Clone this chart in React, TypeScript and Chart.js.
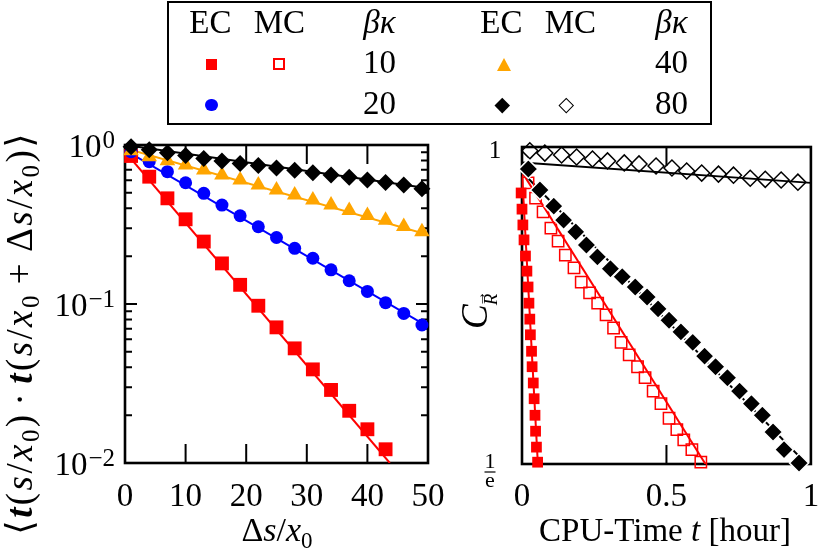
import React, { useEffect, useRef } from 'react';
import { Chart, registerables } from 'chart.js';
Chart.register(...registerables);

const SERIF = '"Liberation Serif", "DejaVu Serif", serif';
const F = (size: number, style = '') => `${style} ${size}px ${SERIF}`.trim();

// ---------- Left panel: tangent correlation vs Δs/x0 ----------
const xsL = [1, 4, 7, 10, 13, 16, 19, 22, 25, 28, 31, 34, 37, 40, 43, 46, 49];
const xsL10 = [1, 4, 7, 10, 13, 16, 19, 22, 25, 28, 31, 34, 37, 40, 43];
const ec80L = [0.975, 0.932, 0.895, 0.858, 0.822, 0.792, 0.765, 0.742, 0.718, 0.694, 0.668, 0.648, 0.627, 0.603, 0.581, 0.561, 0.53];
const ec40L = [0.921, 0.845, 0.797, 0.748, 0.697, 0.648, 0.602, 0.56, 0.521, 0.485, 0.451, 0.419, 0.387, 0.36, 0.336, 0.307, 0.285];
const ec20L = [0.908, 0.785, 0.68, 0.579, 0.497, 0.419, 0.359, 0.306, 0.262, 0.224, 0.194, 0.164, 0.14, 0.12, 0.102, 0.0873, 0.0738];
const ec10L = [0.853, 0.632, 0.462, 0.341, 0.247, 0.18, 0.132, 0.0975, 0.0713, 0.0526, 0.0388, 0.0288, 0.0213, 0.0163, 0.0122];
const fitXL = [0, 50];
const fit80L = [1.0, 0.534];
const fit40L = [0.953, 0.272];
const fit20L = [0.93, 0.072];
const fitX10L = [0, 43.7];
const fit10L = [0.908, 0.01];
const xTickValsL = [0, 10, 20, 30, 40, 50];
const xTickLabelsL = ['0', '10', '20', '30', '40', '50'];
const xTickMarksL = [10, 20, 30, 40];
const yTickValsL = [1, 0.1, 0.01];
const yTickExpL = ['0', '\u22121', '\u22122'];
const yMinorL = [0.02, 0.03, 0.04, 0.05, 0.06, 0.07, 0.08, 0.09, 0.2, 0.3, 0.4, 0.5, 0.6, 0.7, 0.8, 0.9];

// ---------- Right panel: C_R vs CPU time ----------
const tMC80 = [0.027, 0.079, 0.137, 0.189, 0.244, 0.296, 0.354, 0.405, 0.464, 0.519, 0.57, 0.622, 0.68, 0.732, 0.79, 0.842, 0.897, 0.955];
const cMC80 = [0.988, 0.981, 0.975, 0.969, 0.963, 0.957, 0.951, 0.948, 0.942, 0.936, 0.927, 0.921, 0.918, 0.915, 0.906, 0.903, 0.901, 0.895];
const tEC80 = [0.022, 0.062, 0.11, 0.144, 0.186, 0.223, 0.261, 0.306, 0.347, 0.392, 0.433, 0.471, 0.509, 0.55, 0.591, 0.632, 0.67, 0.711, 0.753, 0.794, 0.832, 0.869, 0.907, 0.959];
const cEC80 = [0.933, 0.873, 0.83, 0.794, 0.765, 0.734, 0.707, 0.681, 0.664, 0.643, 0.623, 0.6, 0.579, 0.558, 0.54, 0.517, 0.5, 0.483, 0.463, 0.445, 0.429, 0.407, 0.385, 0.369];
const tMC10 = [0.021, 0.047, 0.073, 0.1, 0.125, 0.15, 0.18, 0.205, 0.234, 0.262, 0.291, 0.317, 0.343, 0.371, 0.4, 0.426, 0.454, 0.481, 0.509, 0.536, 0.56, 0.588, 0.619];
const cMC10 = [0.893, 0.851, 0.815, 0.774, 0.743, 0.711, 0.683, 0.653, 0.631, 0.611, 0.589, 0.565, 0.54, 0.519, 0.5, 0.483, 0.463, 0.445, 0.425, 0.41, 0.397, 0.385, 0.37];
const tEC10 = [-0.005, -0.003, 0.0, 0.003, 0.007, 0.012, 0.017, 0.021, 0.024, 0.027, 0.029, 0.033, 0.035, 0.039, 0.042, 0.045, 0.047, 0.05, 0.054];
const cEC10 = [0.907, 0.865, 0.822, 0.782, 0.746, 0.709, 0.676, 0.643, 0.611, 0.581, 0.553, 0.525, 0.5, 0.475, 0.452, 0.429, 0.408, 0.388, 0.37];
const fitTMC80 = [0, 1];
const fitCMC80 = [0.952, 0.893];
const fitTEC80 = [0, 0.985];
const fitCEC80 = [0.924, 0.3679];
const fitTMC10 = [0, 0.635];
const fitCMC10 = [0.924, 0.3679];
const fitTEC10 = [0, 0.055];
const fitCEC10 = [0.924, 0.3679];
const xTickValsR = [0, 0.5, 1];
const xTickLabelsR = ['0', '0.5', '1'];
const xTickMarksR = [0.5];
const yMinR = 1 / Math.E;
const yMaxR = 1;

const RED = '#ff0000';
const BLUE = '#0000ff';
const ORANGE = '#ffa500';
const BLACK = '#000000';

type Run = { t: string; f: string; dy?: number; pre?: number };

function drawRuns(
  ctx: CanvasRenderingContext2D,
  runs: Run[],
  x: number,
  y: number,
  rot: number,
  align: 'left' | 'center' | 'right',
  sp = 0
) {
  ctx.save();
  ctx.translate(x, y);
  if (rot) ctx.rotate(rot);
  ctx.textBaseline = 'alphabetic';
  ctx.textAlign = 'left';
  ctx.fillStyle = '#000';
  const items: { ch: string; f: string; dy: number; x: number }[] = [];
  let cx = 0;
  runs.forEach((r) => {
    ctx.font = r.f;
    cx += r.pre || 0;
    const chars = sp ? Array.from(r.t) : [r.t];
    chars.forEach((ch) => {
      items.push({ ch, f: r.f, dy: r.dy || 0, x: cx });
      cx += ctx.measureText(ch).width + sp;
    });
  });
  const total = cx - sp;
  const off = align === 'center' ? -total / 2 : align === 'right' ? -total : 0;
  items.forEach((it) => {
    ctx.font = it.f;
    ctx.fillText(it.ch, it.x + off, it.dy);
  });
  ctx.restore();
}

const pts = (xs: number[], ys: number[]) => xs.map((x, i) => ({ x, y: ys[i] }));

function markerSet(label: string, data: any[], style: string, r: number, fill: string, stroke: string, bw: number) {
  return {
    label,
    data,
    showLine: false,
    pointStyle: style,
    pointRadius: r,
    pointBackgroundColor: fill,
    pointBorderColor: stroke,
    pointBorderWidth: bw,
    clip: false,
    order: 0,
  };
}

function lineSet(label: string, data: any[], color: string) {
  return {
    label,
    data,
    showLine: true,
    pointRadius: 0,
    borderColor: color,
    borderWidth: 2,
    backgroundColor: color,
    order: 1,
  };
}

type PanelOpts = {
  name: string;
  xTickMarks: number[];
  xLen: number;
  yMajor: number[];
  yMinor: number[];
  yMajLen: number;
  yMinLen: number;
  drawText: (chart: any) => void;
};

const panelPlugin = (o: PanelOpts) => ({
  id: 'panel_' + o.name,
  beforeDatasetsDraw(chart: any) {
    const { ctx, chartArea: a } = chart;
    const xs = chart.scales.x;
    const ys = chart.scales.y;
    ctx.save();
    ctx.strokeStyle = '#000';
    ctx.lineWidth = 2;
    ctx.beginPath();
    for (const v of o.xTickMarks) {
      const p = xs.getPixelForValue(v);
      ctx.moveTo(p, a.bottom);
      ctx.lineTo(p, a.bottom - o.xLen);
      ctx.moveTo(p, a.top);
      ctx.lineTo(p, a.top + o.xLen);
    }
    const yMarks = (vals: number[], len: number) => {
      for (const v of vals) {
        const p = ys.getPixelForValue(v);
        ctx.moveTo(a.left, p);
        ctx.lineTo(a.left + len, p);
        ctx.moveTo(a.right, p);
        ctx.lineTo(a.right - len, p);
      }
    };
    yMarks(o.yMajor, o.yMajLen);
    yMarks(o.yMinor, o.yMinLen);
    ctx.stroke();
    ctx.lineWidth = 2.6;
    ctx.strokeRect(a.left, a.top, a.right - a.left, a.bottom - a.top);
    ctx.restore();
  },
  afterDraw(chart: any) {
    o.drawText(chart);
  },
});

// Left canvas: page origin (0,100), size 460x456
function drawTextLeft(chart: any) {
  const { ctx, chartArea: a } = chart;
  const xs = chart.scales.x;
  const ys = chart.scales.y;
  xTickValsL.forEach((v, i) => {
    drawRuns(ctx, [{ t: xTickLabelsL[i], f: F(33) }], xs.getPixelForValue(v), 406, 0, 'center');
  });
  yTickValsL.forEach((v, i) => {
    const p = ys.getPixelForValue(v);
    drawRuns(ctx, [{ t: '10', f: F(33) }, { t: yTickExpL[i], f: F(25), dy: -9, pre: 1 }], a.left - 10, p + 12, 0, 'right');
  });
  // x title: Δs/x0
  drawRuns(
    ctx,
    [
      { t: '\u0394', f: F(34) },
      { t: 's', f: F(34, 'italic') },
      { t: '/', f: F(34) },
      { t: 'x', f: F(34, 'italic') },
      { t: '0', f: F(23), dy: 7 },
    ],
    277,
    441,
    0,
    'center'
  );
  // y title
  const n = F(37);
  const it = F(37, 'italic');
  const bi = F(37, 'italic bold');
  const sub = F(25);
  drawRuns(
    ctx,
    [
      { t: '\u27E8', f: n },
      { t: 't', f: bi },
      { t: '(', f: n },
      { t: 's', f: it },
      { t: '/', f: n },
      { t: 'x', f: it },
      { t: '0', f: sub, dy: 7 },
      { t: ')', f: n },
      { t: '\u00B7', f: n, pre: 7 },
      { t: 't', f: bi, pre: 7 },
      { t: '(', f: n },
      { t: 's', f: it },
      { t: '/', f: n },
      { t: 'x', f: it },
      { t: '0', f: sub, dy: 7 },
      { t: '+', f: n, pre: 9 },
      { t: '\u0394', f: n, pre: 9 },
      { t: 's', f: it },
      { t: '/', f: n },
      { t: 'x', f: it },
      { t: '0', f: sub, dy: 7 },
      { t: ')', f: n },
      { t: '\u27E9', f: n },
    ],
    32,
    234,
    -Math.PI / 2,
    'center',
    2.4
  );
}

// Right canvas: page origin (440,100), size 382x456
function drawTextRight(chart: any) {
  const { ctx } = chart;
  const xs = chart.scales.x;
  const ys = chart.scales.y;
  xTickValsR.forEach((v, i) => {
    drawRuns(ctx, [{ t: xTickLabelsR[i], f: F(33) }], xs.getPixelForValue(v), 406, 0, 'center');
  });
  const pTop = ys.getPixelForValue(yMaxR);
  drawRuns(ctx, [{ t: '1', f: F(25) }], 55, pTop + 11, 0, 'center');
  const pBot = ys.getPixelForValue(yMinR);
  drawRuns(ctx, [{ t: '1', f: F(22) }], 50, pBot + 4, 0, 'center');
  ctx.save();
  ctx.strokeStyle = '#000';
  ctx.lineWidth = 1.2;
  ctx.beginPath();
  ctx.moveTo(44.5, pBot + 8);
  ctx.lineTo(55.5, pBot + 8);
  ctx.stroke();
  ctx.restore();
  drawRuns(ctx, [{ t: 'e', f: F(22) }], 50, pBot + 23, 0, 'center');
  // x title
  drawRuns(
    ctx,
    [
      { t: 'CPU-Time ', f: F(33) },
      { t: 't', f: F(33, 'italic') },
      { t: ' [hour]', f: F(33) },
    ],
    225,
    441,
    0,
    'center'
  );
  // y title C_R with arrow (rotated, baseline at page x 487)
  ctx.save();
  ctx.translate(47, 229);
  ctx.rotate(-Math.PI / 2);
  ctx.fillStyle = '#000';
  ctx.textBaseline = 'alphabetic';
  ctx.textAlign = 'left';
  ctx.font = F(37, 'italic');
  ctx.fillText('C', 0, 0);
  const wC = ctx.measureText('C').width;
  ctx.font = F(19, 'italic');
  ctx.fillText('R', wC - 1, 10);
  const wR = ctx.measureText('R').width;
  ctx.font = F(16);
  ctx.textAlign = 'center';
  ctx.fillText('\u2192', wC - 1 + wR / 2 + 1, -2);
  ctx.restore();
}

function Panel(props: { config: any; left: number; top: number; width: number; height: number }) {
  const ref = useRef<HTMLCanvasElement | null>(null);
  useEffect(() => {
    if (!ref.current) return;
    const chart = new Chart(ref.current, props.config);
    return () => chart.destroy();
  }, []);
  return (
    <canvas
      ref={ref}
      width={props.width}
      height={props.height}
      style={{ position: 'absolute', left: props.left, top: props.top, width: props.width, height: props.height }}
    />
  );
}

const baseOptions = (xMin: number, xMax: number, yMin: number, yMax: number, pad: any, yW: number, xH: number) => ({
  animation: false,
  responsive: false,
  maintainAspectRatio: false,
  events: [],
  plugins: { legend: { display: false }, tooltip: { enabled: false } },
  layout: { padding: pad },
  scales: {
    x: {
      type: 'linear',
      min: xMin,
      max: xMax,
      grid: { display: false, drawTicks: false },
      border: { display: false },
      ticks: { display: false },
      afterFit: (s: any) => {
        s.height = xH;
      },
    },
    y: {
      type: 'logarithmic',
      min: yMin,
      max: yMax,
      grid: { display: false, drawTicks: false },
      border: { display: false },
      ticks: { display: false },
      afterFit: (s: any) => {
        s.width = yW;
      },
    },
  },
});

const leftConfig = {
  type: 'scatter',
  data: {
    datasets: [
      markerSet('EC βκ=80', pts(xsL, ec80L), 'rectRot', 8.5, BLACK, BLACK, 0),
      markerSet('EC βκ=40', pts(xsL, ec40L), 'triangle', 9, ORANGE, ORANGE, 0),
      markerSet('EC βκ=20', pts(xsL, ec20L), 'circle', 6.5, BLUE, BLUE, 0),
      markerSet('EC βκ=10', pts(xsL10, ec10L), 'rect', 9.8, RED, RED, 0),
      lineSet('fit 80', pts(fitXL, fit80L), BLACK),
      lineSet('fit 40', pts(fitXL, fit40L), ORANGE),
      lineSet('fit 20', pts(fitXL, fit20L), BLUE),
      lineSet('fit 10', pts(fitX10L, fit10L), RED),
    ],
  },
  options: baseOptions(0, 50, 0.01, 1, { left: 0, right: 32, top: 45, bottom: 0 }, 125, 93),
  plugins: [
    panelPlugin({
      name: 'left',
      xTickMarks: xTickMarksL,
      xLen: 19,
      yMajor: yTickValsL,
      yMinor: yMinorL,
      yMajLen: 12,
      yMinLen: 7,
      drawText: drawTextLeft,
    }),
  ],
};

const rightConfig = {
  type: 'scatter',
  data: {
    datasets: [
      markerSet('EC βκ=80', pts(tEC80, cEC80), 'rectRot', 9.5, BLACK, '#ffffff', 1.6),
      markerSet('MC βκ=80', pts(tMC80, cMC80), 'rectRot', 8, 'rgba(0,0,0,0)', BLACK, 1.5),
      markerSet('MC βκ=10', pts(tMC10, cMC10), 'rect', 8, 'rgba(0,0,0,0)', RED, 1.5),
      markerSet('EC βκ=10', pts(tEC10, cEC10), 'rect', 7.6, RED, RED, 0),
      lineSet('fit MC 80', pts(fitTMC80, fitCMC80), BLACK),
      lineSet('fit EC 80', pts(fitTEC80, fitCEC80), BLACK),
      lineSet('fit MC 10', pts(fitTMC10, fitCMC10), RED),
      lineSet('fit EC 10', pts(fitTEC10, fitCEC10), RED),
    ],
  },
  options: baseOptions(0, 1, yMinR, yMaxR, { left: 0, right: 9, top: 47, bottom: 0 }, 82, 92),
  plugins: [
    panelPlugin({
      name: 'right',
      xTickMarks: xTickMarksR,
      xLen: 19,
      yMajor: [],
      yMinor: [],
      yMajLen: 0,
      yMinLen: 0,
      drawText: drawTextRight,
    }),
  ],
};

// ---------- Legend ----------
const legendHeaders = ['EC', 'MC'];
const legendKappaLeft = ['10', '20'];
const legendKappaRight = ['40', '80'];

const LT = (p: { cx: number; base: number; children: any; italic?: boolean }) => (
  <div
    style={{
      position: 'absolute',
      left: p.cx - 60,
      width: 120,
      top: p.base - 28,
      height: 33,
      lineHeight: '33px',
      fontSize: 33,
      fontFamily: SERIF,
      fontStyle: p.italic ? 'italic' : 'normal',
      textAlign: 'center',
      color: '#000',
      whiteSpace: 'nowrap',
    }}
  >
    {p.children}
  </div>
);

function Legend() {
  const ox = 167;
  const oy = 1;
  const box = (cx: number, cy: number, w: number, h: number, extra: any) => (
    <div style={{ position: 'absolute', left: cx - ox - w / 2, top: cy - oy - h / 2, width: w, height: h, boxSizing: 'border-box', ...extra }} />
  );
  const rows = [35, 75, 116];
  return (
    <div
      style={{
        position: 'absolute',
        left: ox,
        top: oy,
        width: 712 - ox,
        height: 125 - oy,
        border: '2.6px solid #000',
        boxSizing: 'border-box',
        background: '#fff',
        zIndex: 2,
      }}
    >
      <div style={{ position: 'absolute', left: -2.6, top: -2.6, width: 0, height: 0 }}>
        <LT cx={211 - ox} base={rows[0] - oy}>{legendHeaders[0]}</LT>
        <LT cx={280 - ox} base={rows[0] - oy}>{legendHeaders[1]}</LT>
        <LT cx={380 - ox} base={rows[0] - oy} italic>βκ</LT>
        <LT cx={502 - ox} base={rows[0] - oy}>{legendHeaders[0]}</LT>
        <LT cx={571 - ox} base={rows[0] - oy}>{legendHeaders[1]}</LT>
        <LT cx={672 - ox} base={rows[0] - oy} italic>βκ</LT>
        <LT cx={380 - ox} base={rows[1] - oy}>{legendKappaLeft[0]}</LT>
        <LT cx={380 - ox} base={rows[2] - oy}>{legendKappaLeft[1]}</LT>
        <LT cx={672 - ox} base={rows[1] - oy}>{legendKappaRight[0]}</LT>
        <LT cx={672 - ox} base={rows[2] - oy}>{legendKappaRight[1]}</LT>
        {box(212.5, 65, 11, 11, { background: RED })}
        {box(279.5, 65, 12, 12, { borderWidth: 2, borderStyle: 'solid', borderColor: RED, background: '#fff' })}
        {box(212, 105.5, 12.5, 12.5, { background: BLUE, borderRadius: '50%' })}
        <div
          style={{
            position: 'absolute',
            left: 505 - ox - 7.5,
            top: 65 - oy - 6.5,
            width: 0,
            height: 0,
            borderLeft: '7.5px solid transparent',
            borderRight: '7.5px solid transparent',
            borderBottom: `13px solid ${ORANGE}`,
          }}
        />
        {box(503, 106, 10.5, 10.5, { background: BLACK, transform: 'rotate(45deg)' })}
        {box(567, 106, 10.5, 10.5, { borderWidth: 1.8, borderStyle: 'solid', borderColor: BLACK, transform: 'rotate(45deg)' })}
      </div>
    </div>
  );
}

export default function App() {
  return (
    <div style={{ position: 'absolute', left: 0, top: 0, width: 822, height: 556, background: '#fff', overflow: 'hidden' }}>
      <Panel config={leftConfig} left={0} top={100} width={460} height={456} />
      <Panel config={rightConfig} left={440} top={100} width={382} height={456} />
      <Legend />
    </div>
  );
}
